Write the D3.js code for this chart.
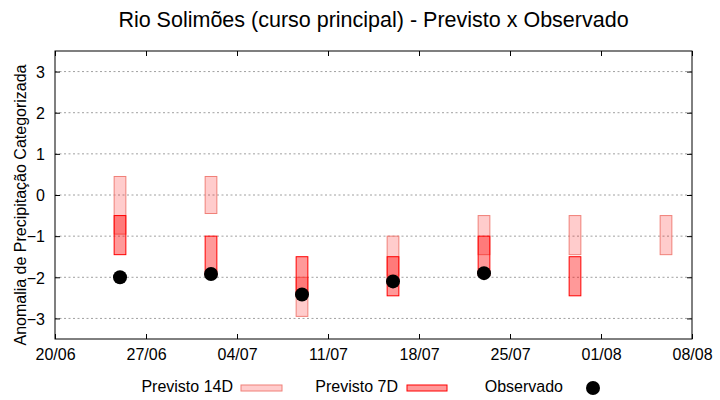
<!DOCTYPE html>
<html>
<head>
<meta charset="utf-8">
<script src="https://cdn.jsdelivr.net/npm/d3@7"></script>
<style>
  body { margin: 0; background: #fff; }
  svg { display: block; font-family: "Liberation Sans", Arial, sans-serif; }
</style>
</head>
<body>
<svg id="chart" width="720" height="400"></svg>
<script>
// ---- data ----
const title = "Rio Solimões (curso principal) - Previsto x Observado";
const yLabel = "Anomalia de Precipitação Categorizada";
const dates = ["25/06", "02/07", "09/07", "16/07", "23/07", "30/07", "06/08"];
const prev14High = [0.45, 0.45, -2.0, -1.0, -0.5, -0.5, -0.5];
const prev14Low  = [-0.95, -0.45, -2.95, -1.95, -1.45, -1.45, -1.45];
const prev7High  = [-0.5, -1.0, -1.5, -1.5, -1.0, -1.5, null];
const prev7Low   = [-1.45, -1.95, -2.45, -2.45, -1.95, -2.45, null];
const observed   = [-2.0, -1.92, -2.42, -2.1, -1.9, null, null];
const xTickLabels = ["20/06", "27/06", "04/07", "11/07", "18/07", "25/07", "01/08", "08/08"];
const yTicks = [-3, -2, -1, 0, 1, 2, 3];
const legendLabels = ["Previsto 14D", "Previsto 7D", "Observado"];

// ---- setup ----
const YEAR = 2023;
const parse = s => { const [d, m] = s.split("/").map(Number); return new Date(YEAR, m - 1, d); };
const svg = d3.select("#chart");
const m = { left: 55, right: 692, top: 51, bottom: 339 };

const x = d3.scaleTime()
  .domain([parse(xTickLabels[0]), parse(xTickLabels[xTickLabels.length - 1])])
  .range([m.left, m.right]);
const y = d3.scaleLinear().domain([-3.5, 3.5]).range([m.bottom, m.top]);

const halfDay = 0.45 * 24 * 3600 * 1000;
const c14Fill = "rgba(255,0,0,0.2)", c14Stroke = "#f08078";
const c7Fill = "rgba(255,0,0,0.4)", c7Stroke = "#ff0000";

// grid
svg.append("g").selectAll("line").data(yTicks).join("line")
  .attr("x1", m.left).attr("x2", m.right)
  .attr("y1", d => y(d)).attr("y2", d => y(d))
  .attr("stroke", "#a0a0a0").attr("stroke-width", 1)
  .attr("stroke-dasharray", "2,2.5");

// axes
const tickVals = xTickLabels.map(parse);
const fmt = (d) => xTickLabels[tickVals.findIndex(t => +t === +d)];
const axB = svg.append("g").attr("transform", `translate(0,${m.bottom})`)
  .call(d3.axisBottom(x).tickValues(tickVals).tickFormat(fmt).tickSizeInner(-5).tickSizeOuter(0).tickPadding(10));
const axT = svg.append("g").attr("transform", `translate(0,${m.top})`)
  .call(d3.axisTop(x).tickValues(tickVals).tickFormat("").tickSizeInner(-5).tickSizeOuter(0));
const axL = svg.append("g").attr("transform", `translate(${m.left},0)`)
  .call(d3.axisLeft(y).tickValues(yTicks).tickFormat(d3.format("d")).tickSizeInner(-5).tickSizeOuter(0).tickPadding(10));
const axR = svg.append("g").attr("transform", `translate(${m.right},0)`)
  .call(d3.axisRight(y).tickValues(yTicks).tickFormat("").tickSizeInner(-5).tickSizeOuter(0));
[axB, axT, axL, axR].forEach(g => {
  g.select(".domain").remove();
  g.selectAll(".tick line").attr("stroke", "#000");
  g.selectAll("text").attr("font-size", 16).attr("fill", "#000").attr("font-family", "Liberation Sans, Arial, sans-serif");
});
axL.selectAll("text").attr("dy", "0.36em");
// border
svg.append("rect").attr("x", m.left).attr("y", m.top)
  .attr("width", m.right - m.left).attr("height", m.bottom - m.top)
  .attr("fill", "none").attr("stroke", "#000").attr("stroke-width", 1);

// bars 14D
const idx = dates.map((d, i) => i);
svg.append("g").selectAll("rect").data(idx.filter(i => prev14High[i] != null)).join("rect")
  .attr("x", i => x(new Date(+parse(dates[i]) - halfDay)))
  .attr("width", i => x(new Date(+parse(dates[i]) + halfDay)) - x(new Date(+parse(dates[i]) - halfDay)))
  .attr("y", i => y(prev14High[i]))
  .attr("height", i => y(prev14Low[i]) - y(prev14High[i]))
  .attr("fill", c14Fill).attr("stroke", c14Stroke).attr("stroke-width", 1);
// bars 7D
svg.append("g").selectAll("rect").data(idx.filter(i => prev7High[i] != null)).join("rect")
  .attr("x", i => x(new Date(+parse(dates[i]) - halfDay)))
  .attr("width", i => x(new Date(+parse(dates[i]) + halfDay)) - x(new Date(+parse(dates[i]) - halfDay)))
  .attr("y", i => y(prev7High[i]))
  .attr("height", i => y(prev7Low[i]) - y(prev7High[i]))
  .attr("fill", c7Fill).attr("stroke", c7Stroke).attr("stroke-width", 1);
// observed
svg.append("g").selectAll("circle").data(idx.filter(i => observed[i] != null)).join("circle")
  .attr("cx", i => x(parse(dates[i])))
  .attr("cy", i => y(observed[i]))
  .attr("r", 7).attr("fill", "#000");

// title
svg.append("text").attr("x", (m.left + m.right) / 2).attr("y", 27)
  .attr("text-anchor", "middle").attr("font-size", 21.5).text(title);
// y label
svg.append("text").attr("transform", "translate(26,205) rotate(-90)")
  .attr("text-anchor", "middle").attr("font-size", 16).text(yLabel);

// legend
const lg = svg.append("g").attr("font-size", 16);
const legY = 392;
lg.append("text").attr("x", 233).attr("y", legY).attr("text-anchor", "end").text(legendLabels[0]);
lg.append("rect").attr("x", 241).attr("y", 385).attr("width", 41).attr("height", 6)
  .attr("fill", c14Fill).attr("stroke", c14Stroke);
lg.append("text").attr("x", 398).attr("y", legY).attr("text-anchor", "end").text(legendLabels[1]);
lg.append("rect").attr("x", 407).attr("y", 385).attr("width", 40).attr("height", 6)
  .attr("fill", c7Fill).attr("stroke", c7Stroke);
lg.append("text").attr("x", 563).attr("y", legY).attr("text-anchor", "end").text(legendLabels[2]);
lg.append("circle").attr("cx", 593).attr("cy", 388).attr("r", 7).attr("fill", "#000");
</script>
</body>
</html>
